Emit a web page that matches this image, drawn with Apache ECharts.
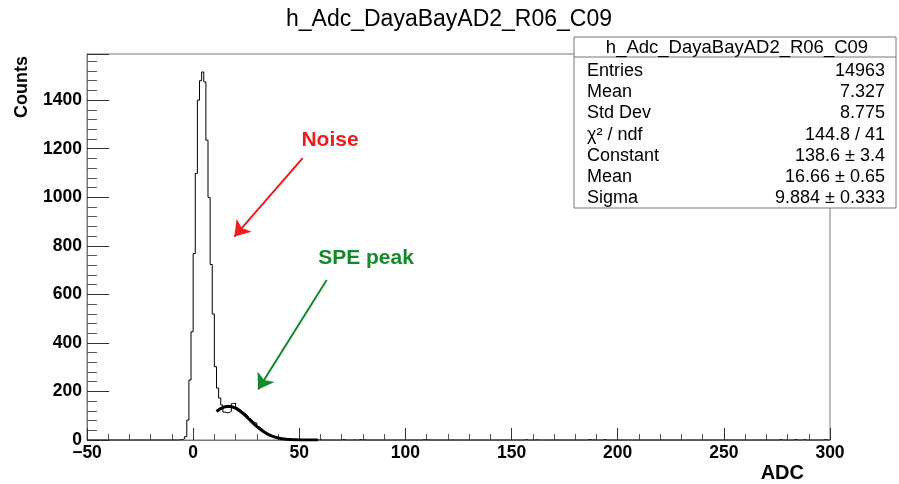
<!DOCTYPE html>
<html>
<head>
<meta charset="utf-8">
<script src="https://cdn.jsdelivr.net/npm/echarts@6/dist/echarts.min.js"></script>
<style>
  html, body { margin: 0; padding: 0; background: #fff; }
  #chart { width: 899px; height: 484px; }
</style>
</head>
<body>
<div id="chart"></div>
<script>
// Histogram of ADC counts: 1-ADC bins from -50 to 300
const histLow = -50;
const histHigh = 300;

// Contiguous bins starting at ADC -7 (noise peak and single photo-electron bump)
const coreFirstBin = -7;
const coreCounts = [
  1, 2, 5, 14, 82, 247, 446,                 // -7 .. -1
  768, 1098, 1400, 1480, 1516, 1475, 1235,   // 0 .. 6
  999, 723, 519, 302, 214, 173, 144,         // 7 .. 13
  115, 112, 113, 118, 150, 152, 133,         // 14 .. 20
  126, 119, 112, 106, 98, 88, 80,            // 21 .. 27
  72, 70, 55, 49, 41, 35, 29,                // 28 .. 34
  24, 19, 16, 13, 10, 8, 6,                  // 35 .. 41
  5, 4, 3, 2, 2, 2, 1,                       // 42 .. 48
  1, 1, 1, 0, 1, 0, 1,                       // 49 .. 55
  0, 1, 0, 1, 0                              // 56 .. 60
];

// Isolated entries far out in the tail
const strayBins   = [70, 75, 78, 80, 108, 110, 156, 161, 186, 188, 193, 276, 283, 287, 297];
const strayCounts = [2, 1, 2, 1, 2, 1, 2, 1, 2, 1, 2, 2, 2, 2, 2];

// Statistics and Gaussian fit result
const statsName = 'h_Adc_DayaBayAD2_R06_C09';
const entries = 14963;
const histMean = 7.327;
const histStdDev = 8.775;
const chi2 = 144.8;
const ndf = 41;
const fitConstant = [138.6, 3.4];
const fitMean = [16.66, 0.65];
const fitSigma = [9.884, 0.333];
const fitRange = [11, 59];

// Axis settings
const xMin = -50, xMax = 300, xStep = 50;
const yMin = 0, yMax = 1590, yStep = 200;

// ---- build series data ----
const nBins = histHigh - histLow;
const counts = new Array(nBins).fill(0);
coreCounts.forEach((c, i) => { counts[coreFirstBin + i - histLow] += c; });
strayBins.forEach((b, i) => { counts[b - histLow] += strayCounts[i]; });

const histPoints = counts.map((c, i) => [histLow + i, c]);
histPoints.push([histHigh, counts[nBins - 1]]);

// Fitted Gaussian evaluated with the parameters shown in the stats box
const fitPoints = [];
for (let x = fitRange[0]; x <= fitRange[1] + 1e-9; x += 0.25) {
  const d = (x - fitMean[0]) / fitSigma[0];
  fitPoints.push([x, fitConstant[0] * Math.exp(-0.5 * d * d)]);
}

const FONT = '"Liberation Sans", Arial, Helvetica, sans-serif';

// ---- stats box ----
const boxX = 574, boxY = 37, boxW = 322, boxH = 171;
const headH = 20;
const rowY0 = 71, rowDy = 21.2;
const statRows = [
  ['Entries', String(entries)],
  ['Mean', histMean.toFixed(3)],
  ['Std Dev', histStdDev.toFixed(3)],
  ['\u03c7\u00b2 / ndf', chi2.toFixed(1) + ' / ' + ndf],
  ['Constant', fitConstant[0].toFixed(1) + ' \u00b1 ' + fitConstant[1].toFixed(1)],
  ['Mean', fitMean[0].toFixed(2) + ' \u00b1 ' + fitMean[1].toFixed(2)],
  ['Sigma', fitSigma[0].toFixed(3) + ' \u00b1 ' + fitSigma[1].toFixed(3)]
];
const statsChildren = [
  { type: 'rect', shape: { x: boxX, y: boxY, width: boxW, height: boxH },
    style: { fill: '#fff', stroke: '#777', lineWidth: 1 } },
  { type: 'line', shape: { x1: boxX, y1: boxY + headH, x2: boxX + boxW, y2: boxY + headH },
    style: { stroke: '#777', lineWidth: 1 } },
  { type: 'text', x: boxX + boxW / 2 + 2, y: boxY + headH / 2 + 1,
    style: { text: statsName, font: '18.5px ' + FONT, fill: '#000', align: 'center', verticalAlign: 'middle' } }
];
statRows.forEach((r, i) => {
  const y = rowY0 + i * rowDy;
  statsChildren.push({ type: 'text', x: boxX + 13, y: y,
    style: { text: r[0], font: '18px ' + FONT, fill: '#000', align: 'left', verticalAlign: 'middle' } });
  statsChildren.push({ type: 'text', x: boxX + boxW - 11, y: y,
    style: { text: r[1], font: '18px ' + FONT, fill: '#000', align: 'right', verticalAlign: 'middle' } });
});

const chart = echarts.init(document.getElementById('chart'), null, { renderer: 'canvas' });

chart.setOption({
  animation: false,
  backgroundColor: '#fff',
  grid: {
    left: 87, right: 69, top: 54, bottom: 44,
    show: true, borderColor: '#777', borderWidth: 1, backgroundColor: 'transparent'
  },
  xAxis: {
    type: 'value', min: xMin, max: xMax, interval: xStep,
    axisLine: { show: true, onZero: false, lineStyle: { color: '#777', width: 1 } },
    axisTick: { show: true, inside: true, length: 12, lineStyle: { color: '#333', width: 1 } },
    minorTick: { show: true, splitNumber: 5, length: 6, lineStyle: { color: '#555', width: 1 } },
    splitLine: { show: false },
    minorSplitLine: { show: false },
    axisLabel: {
      margin: 4, color: '#000', fontSize: 17.5, fontWeight: 'bold', fontFamily: FONT,
      formatter: v => (v < 0 ? '\u2212' + Math.abs(v) : String(v))
    }
  },
  yAxis: {
    type: 'value', min: yMin, max: yMax, interval: yStep,
    axisLine: { show: true, onZero: false, lineStyle: { color: '#777', width: 1 } },
    axisTick: { show: true, inside: true, length: 22, lineStyle: { color: '#333', width: 1 } },
    minorTick: { show: true, splitNumber: 5, length: 10, lineStyle: { color: '#555', width: 1 } },
    splitLine: { show: false },
    minorSplitLine: { show: false },
    axisLabel: {
      margin: 5, color: '#000', fontSize: 17.5, fontWeight: 'bold', fontFamily: FONT,
      formatter: v => (v % yStep === 0 ? String(v) : '')
    }
  },
  series: [
    {
      name: 'histogram', type: 'line', step: 'end', data: histPoints,
      symbol: 'none', silent: true,
      lineStyle: { color: '#000', width: 1 },
      z: 3,
      markLine: {
        silent: true, animation: false,
        symbol: ['none', 'arrow'], symbolSize: 15,
        label: { show: false },
        emphasis: { disabled: true },
        data: [
          [{ coord: [51.6, 1161], lineStyle: { color: '#ee1c1c', width: 2, type: 'solid' }, itemStyle: { color: '#ee1c1c' } },
           { coord: [19.4, 838] }],
          [{ coord: [62.9, 659], lineStyle: { color: '#13892b', width: 2, type: 'solid' }, itemStyle: { color: '#13892b' } },
           { coord: [30.6, 208] }]
        ]
      }
    },
    {
      name: 'gaus fit', type: 'line', data: fitPoints, smooth: false,
      symbol: 'none', silent: true,
      lineStyle: { color: '#000', width: 3 },
      z: 4
    }
  ],
  graphic: [
    { type: 'text', x: 449, y: 20,
      style: { text: statsName, font: '23px ' + FONT, fill: '#000', align: 'center', verticalAlign: 'middle' } },
    { type: 'text', x: 22, y: 87, rotation: Math.PI / 2,
      style: { text: 'Counts', font: 'bold 18px ' + FONT, fill: '#000', align: 'center', verticalAlign: 'middle' } },
    { type: 'text', x: 804, y: 473,
      style: { text: 'ADC', font: 'bold 20px ' + FONT, fill: '#000', align: 'right', verticalAlign: 'middle' } },
    { type: 'text', x: 330, y: 140,
      style: { text: 'Noise', font: 'bold 21px ' + FONT, fill: '#ee1c1c', align: 'center', verticalAlign: 'middle' } },
    { type: 'text', x: 366, y: 258,
      style: { text: 'SPE peak', font: 'bold 21px ' + FONT, fill: '#13892b', align: 'center', verticalAlign: 'middle' } },
    { type: 'group', children: statsChildren }
  ]
});
</script>
</body>
</html>
